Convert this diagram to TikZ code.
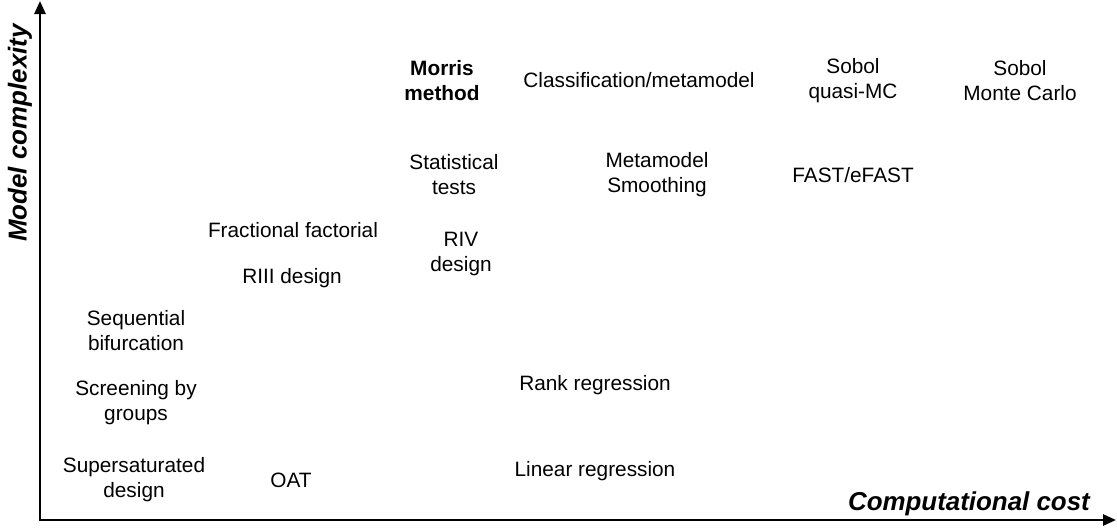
\documentclass[tikz,border=0pt]{standalone}
\usepackage{fontspec}
\setmainfont{Liberation Sans}
\usetikzlibrary{arrows.meta}
\begin{document}
\begin{tikzpicture}[x=1pt,y=-1pt,
  lbl/.style={align=center,inner sep=0pt,font=\fontsize{20.8}{25}\selectfont},
  axislbl/.style={inner sep=0pt,font=\fontsize{25.9}{30}\selectfont\bfseries\itshape},
  axis/.style={line width=2.6pt,-{Triangle[length=13pt,width=11pt]}}]
\useasboundingbox (0,0) rectangle (1117,530);
\coordinate (o) at (40,520);
\coordinate (ytip) at (40,1);
\coordinate (xtip) at (1116,520);
\draw[axis] (40,521.3) -- (ytip);
\draw[axis] (38.7,520) -- (xtip);
\node[axislbl,rotate=90] (ylab) at (20,133) {Model complexity};
\node[axislbl,anchor=east] (xlab) at (1090,504) {Computational cost};
\node[lbl,font=\fontsize{20.8}{25}\selectfont\bfseries] (morris) at (442,81) {Morris\\method};
\node[lbl] (class) at (639,80) {Classification/metamodel};
\node[lbl] (sobolq) at (853,81) {Sobol\\quasi-MC};
\node[lbl] (sobolmc) at (1020,81) {Sobol\\Monte Carlo};
\node[lbl] (stat) at (454,175) {Statistical\\tests};
\node[lbl] (meta) at (657,175) {Metamodel\\Smoothing};
\node[lbl] (fast) at (853,175) {FAST/eFAST};
\node[lbl] (frac) at (293,230) {Fractional factorial};
\node[lbl] (riv) at (461,254) {RIV\\design};
\node[lbl] (riii) at (292,278) {RIII design};
\node[lbl] (seq) at (136,331) {Sequential\\bifurcation};
\node[lbl] (screen) at (136,403) {Screening by\\groups};
\node[lbl] (rank) at (595,385) {Rank regression};
\node[lbl] (super) at (134,480) {Supersaturated\\design};
\node[lbl] (oat) at (291,480) {OAT};
\node[lbl] (lin) at (595,471) {Linear regression};
\end{tikzpicture}
\end{document}
